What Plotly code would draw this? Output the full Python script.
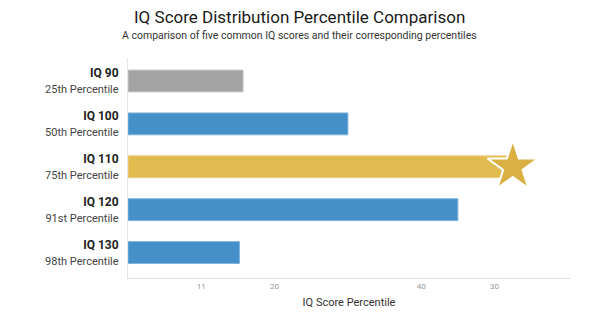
import plotly.graph_objects as go

iq_labels = ["IQ 90", "IQ 100", "IQ 110", "IQ 120", "IQ 130"]
pct_labels = ["25th Percentile", "50th Percentile", "75th Percentile", "91st Percentile", "98th Percentile"]
values = [15.7, 30.0, 52.5, 45.0, 15.2]
bar_colors = ["#A3A3A3", "#4590C9", "#E2BB50", "#4590C9", "#4590C9"]
edge_colors = ["#C8C8C8", "#7DB3DD", "#EBCF80", "#7DB3DD", "#7DB3DD"]
highlight_index = 2
x_tick_vals = [10, 20, 40, 50]
x_tick_text = ["11", "20", "40", "30"]

title_text = "IQ Score Distribution Percentile Comparison"
subtitle_text = "A comparison of five common IQ scores and their corresponding percentiles"

pos = list(range(len(iq_labels)))
ticktext = [f"<b>{a}</b><br><span style='font-size:11px;color:#444'>{b}</span>"
            for a, b in zip(iq_labels, pct_labels)]

fig = go.Figure()
fig.add_trace(go.Bar(
    x=values, y=pos, orientation="h",
    marker=dict(color=bar_colors, line=dict(color=edge_colors, width=1)),
    width=0.51, showlegend=False, hoverinfo="skip",
))
fig.add_trace(go.Scatter(
    x=[values[highlight_index]], y=[pos[highlight_index]], mode="markers",
    marker=dict(symbol="star", size=38, color="#D9B041",
                line=dict(color="white", width=2)),
    showlegend=False, hoverinfo="skip",
))

fig.add_annotation(text=title_text, xref="paper", yref="paper", x=0.389, y=1.186,
                   xanchor="center", yanchor="middle", showarrow=False,
                   font=dict(size=17, color="#1a1a1a"))
fig.add_annotation(text=subtitle_text, xref="paper", yref="paper", x=0.389, y=1.1045,
                   xanchor="center", yanchor="middle", showarrow=False,
                   font=dict(size=10.5, color="#333"))

fig.update_layout(
    width=600, height=327,
    margin=dict(l=128, r=30, t=58, b=49),
    paper_bgcolor="white", plot_bgcolor="white",
    font=dict(family="Roboto, sans-serif", color="#222"),
    xaxis=dict(
        range=[0, 60.3], tickvals=x_tick_vals, ticktext=x_tick_text,
        tickfont=dict(size=8, color="#999"), showgrid=False, zeroline=False,
        showline=True, linecolor="#DDDDDD", linewidth=1, ticks="",
        title=dict(text="IQ Score Percentile", font=dict(size=11, color="#333"), standoff=8),
    ),
    yaxis=dict(
        range=[4.594, -0.536], tickvals=pos, ticktext=ticktext,
        tickfont=dict(size=12, color="#222"), showgrid=False, zeroline=False,
        showline=True, linecolor="#E4E4E4", linewidth=1, ticks="", ticklabelstandoff=6,
    ),
)

fig.write_html("out.html")
